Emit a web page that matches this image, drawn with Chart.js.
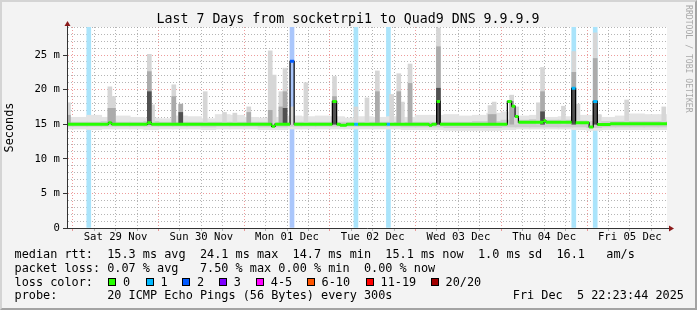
<!DOCTYPE html>
<html>
<head>
<meta charset="utf-8">
<title>Last 7 Days from socketrpi1 to Quad9 DNS 9.9.9.9</title>
<script src="https://cdn.jsdelivr.net/npm/chart.js@4.4.1/dist/chart.umd.min.js"></script>
<style>
  body { margin: 0; background: #fff; }
  #wrap { position: relative; width: 697px; height: 310px; background: #f3f3f3; overflow: hidden;
          font-family: "DejaVu Sans Mono", monospace; color: #000; }
  #wrap canvas { position: absolute; left: 0; top: 0; }
  #frame { position: absolute; left: 0; top: 0; width: 697px; height: 310px; box-sizing: border-box; pointer-events: none;
           border-top: 2px solid #d4d4d4; border-left: 2px solid #d4d4d4;
           border-right: 2px solid #a3a3a3; border-bottom: 2px solid #a3a3a3; }
  #title { position: absolute; left: 0; top: 11px; width: 696px; text-align: center;
           font-size: 13.25px; line-height: 16px; white-space: pre; }
  .t { position: absolute; white-space: pre; font-size: 11.85px; line-height: 14px; }
  .sq { position: absolute; top: 278px; width: 8px; height: 8px; box-sizing: border-box; border: 1px solid #000; }
  #credit { position: absolute; left: 683.5px; top: 5px; writing-mode: vertical-rl; font-size: 8.15px;
            line-height: 9px; color: #a8a8a8; white-space: pre; }
</style>
</head>
<body>
<div id="wrap">
  <canvas id="chart" width="697" height="310"></canvas>
  <div id="title">Last 7 Days from socketrpi1 to Quad9 DNS 9.9.9.9</div>
  <div id="credit">RRDTOOL / TOBI OETIKER</div>
  <div class="t" style="left:14.5px;top:247.2px">median rtt:  15.3 ms avg  24.1 ms max  14.7 ms min  15.1 ms now  1.0 ms sd  16.1   am/s</div>
  <div class="t" style="left:14.5px;top:260.9px">packet loss: 0.07 % avg   7.50 % max 0.00 % min  0.00 % now</div>
  <div class="t" style="left:14.5px;top:274.6px">loss color:</div>
  <div id="lossKey"></div>
  <div class="t" style="left:14.5px;top:288.2px">probe:       20 ICMP Echo Pings (56 Bytes) every 300s</div>
  <div class="t" style="left:512.8px;top:288.2px">Fri Dec  5 22:23:44 2025</div>
  <div id="frame"></div>
</div>
<script>
// time axis in hours, 0 = Sat 29 Nov 00:00
var T_START = -1.6;
var T_END = 166.4;
var Y_MAX = 29.05;

var dayLabels = ['Sat 29 Nov', 'Sun 30 Nov', 'Mon 01 Dec', 'Tue 02 Dec', 'Wed 03 Dec', 'Thu 04 Dec', 'Fri 05 Dec'];
var xGridHours = [0, 6, 12, 18, 24, 30, 36, 42, 48, 54, 60, 66, 72, 78, 84, 90, 96, 102, 108, 114,
                  120, 126, 132, 138, 144, 150, 156, 162];
var yGridMs = [0, 1, 2, 3, 4, 5, 6, 7, 8, 9, 10, 11, 12, 13, 14, 15, 16, 17, 18, 19, 20, 21, 22, 23, 24, 25, 26, 27, 28, 29];

// base smoke, 4 hour bins (ms)
var binHours = [-2, 2, 6, 10, 14, 18, 22, 26, 30, 34, 38, 42, 46, 50, 54, 58, 62, 66, 70, 74, 78, 82,
                86, 90, 94, 98, 102, 106, 110, 114, 118, 122, 126, 130, 134, 138, 142, 146, 150, 154, 158, 162, 166];
var baseHi = [16.0, 16.0, 16.3, 16.0, 16.2, 16.0, 15.9, 15.8, 16.2, 16.1, 15.8, 16.4, 16.3, 16.0, 15.9, 16.0,
              16.2, 16.1, 16.2, 16.1, 15.9, 16.1, 16.0, 16.1, 16.0, 16.3, 16.3, 16.4, 16.2, 16.3, 16.6, 16.8,
              16.2, 16.3, 16.0, 16.1, 16.3, 16.3, 16.0, 16.2, 16.5, 16.4, 16.4];
var baseLo = [14.3, 14.3, 14.2, 14.3, 14.3, 14.3, 14.2, 14.3, 14.3, 14.3, 14.2, 14.3, 14.3, 14.3, 14.2, 14.2,
              14.3, 14.3, 14.3, 14.3, 14.3, 14.3, 14.3, 14.3, 14.2, 14.2, 14.2, 14.1, 14.1, 14.1, 14.1, 14.2,
              14.3, 14.3, 14.3, 14.3, 14.2, 14.1, 14.2, 14.2, 14.2, 14.2, 14.2];
var shadeLo = [14.7, 14.7, 14.7, 14.7, 14.7, 14.7, 14.7, 14.7, 14.7, 14.7, 14.6, 14.7, 14.7, 14.7, 14.6, 14.6,
               14.7, 14.7, 14.7, 14.7, 14.7, 14.7, 14.7, 14.7, 14.6, 14.6, 14.6, 14.5, 14.5, 14.5, 14.5, 14.6,
               14.6, 14.6, 14.6, 14.6, 14.6, 14.5, 14.6, 14.6, 14.6, 14.6, 14.6];
var shadeHi = [15.3, 15.3, 15.3, 15.4, 15.3, 15.3, 15.4, 15.3, 15.3, 15.3, 15.3, 15.3, 15.3, 15.3, 15.3, 15.3,
               15.3, 15.3, 15.3, 15.3, 15.3, 15.3, 15.3, 15.3, 15.3, 15.3, 15.3, 15.3, 15.3, 15.4, 15.4, 15.6,
               15.6, 15.7, 15.6, 15.6, 15.5, 15.4, 15.4, 15.4, 15.4, 15.4, 15.4];

// narrow smoke spikes (ms)
var spikeHours = [-1.2, 10.4, 11.4, 21.45, 22.35, 28.3, 30.25, 37.1, 42.5, 45.4, 49.3, 55.3, 56.4, 58.3, 59.45,
                  61.4, 65.3, 73.3, 79.3, 82.4, 85.3, 89.3, 91.3, 92.3, 94.45, 102.4, 116.85, 118.0, 122.9,
                  124.3, 130.4, 131.55, 137.4, 140.3, 141.45, 146.3, 147.4, 155.1, 165.5];
var spikeTop = [18.1, 20.4, 19.0, 25.1, 17.8, 20.7, 17.9, 19.7, 16.7, 16.6, 17.5, 25.6, 22.1, 19.7, 23.1,
                17.5, 21.0, 21.9, 17.5, 18.8, 22.7, 19.3, 22.3, 18.2, 23.7, 28.9, 17.7, 18.2, 19.2,
                17.5, 18.1, 23.2, 17.6, 25.5, 17.9, 28.2, 16.4, 18.5, 17.5];
var spikeMid = [16.3, 17.3, 17.3, 22.6, null, 19.0, 17.9, null, null, null, 16.7, 17.0, null, 17.5, 19.7,
                null, null, 19.0, null, null, 19.7, null, 19.7, null, 20.9, 26.2, 16.4, 16.4, 18.3,
                null, null, 19.7, null, 22.5, null, 24.5, null, null, null];
var spikeDark = [null, null, null, 19.7, null, null, 16.7, null, null, null, null, null, null, null, 17.3,
                 null, null, 18.3, null, null, null, null, null, null, null, 20.2, null, null, null,
                 null, null, 16.8, null, 20.2, null, 18.3, null, null, null];

// median rtt, step change points (ms) and loss count for each step
var medianT = [-1.6, 10.0, 10.9, 20.9, 22.0, 55.7, 56.65, 60.85, 62.0, 72.7, 73.9, 74.85, 76.7, 78.8, 79.9,
               87.9, 88.85, 99.75, 100.6, 101.9, 102.85, 121.7, 122.9, 123.85, 124.8, 131.8, 132.5, 139.7,
               140.8, 144.6, 145.75, 146.9, 150.5];
var medianV = [15.0, 15.2, 15.0, 15.2, 15.0, 14.7, 15.0, 24.1, 15.0, 18.3, 15.0, 14.85, 15.0, 15.0, 15.0,
               15.0, 15.0, 14.85, 15.0, 18.3, 15.0, 18.3, 17.6, 16.1, 15.3, 15.5, 15.3, 20.2,
               15.2, 14.6, 18.3, 14.95, 15.05];
var medianLoss = [0, 0, 0, 0, 0, 0, 0, 2, 0, 0, 0, 0, 0, 1, 0, 1, 0, 0, 0, 0, 0, 0, 0, 0, 0, 0, 0, 1,
                  0, 0, 1, 0, 0];

// packet loss bands
var lossHours = [4.5, 61.4, 79.3, 88.4, 140.3, 146.3];
var lossLevel = [1, 2, 1, 1, 1, 1];

var lossKeyLabels = ['0', '1', '2', '3', '4-5', '6-10', '11-19', '20/20'];
var lossColors = ['#26ff00', '#00b8ff', '#0059ff', '#7e00ff', '#ff00ff', '#ff5500', '#ff0000', '#a10000'];
var bandColors = ['#ffffff', '#aae4fb', '#aac6fb'];

// loss colour key (legend text)
var keyLeft = [108.3, 145.7, 182.3, 219, 256, 306.7, 365.7, 430.7];
var key = document.getElementById('lossKey');
lossKeyLabels.forEach(function (lab, i) {
    var sq = document.createElement('div');
    sq.className = 'sq';
    sq.style.left = keyLeft[i] + 'px';
    sq.style.background = lossColors[i];
    key.appendChild(sq);
    var tx = document.createElement('div');
    tx.className = 't';
    tx.style.left = (keyLeft[i] + 14.8) + 'px';
    tx.style.top = '274.6px';
    tx.textContent = lab;
    key.appendChild(tx);
});

function stepEnd(i) {
    return i + 1 < medianT.length ? medianT[i + 1] : T_END;
}

function medianSegments(level) {
    var pts = [];
    medianT.forEach(function (t, i) {
        if (medianLoss[i] !== level) return;
        pts.push({ x: t, y: medianV[i] }, { x: stepEnd(i), y: medianV[i] }, { x: stepEnd(i), y: null });
    });
    return pts;
}

var medianStep = [];
medianT.forEach(function (t, i) {
    medianStep.push({ x: t, y: medianV[i] }, { x: stepEnd(i), y: medianV[i] });
});

function spikeBars(tops) {
    var out = [];
    spikeHours.forEach(function (h, i) {
        if (tops[i] !== null) out.push({ x: h, y: [15.0, tops[i]] });
    });
    return out;
}

var RED = 'rgba(225, 90, 90, 0.6)';
var GRAY = 'rgba(150, 150, 150, 0.7)';

var areaBg = {
    id: 'areaBg',
    beforeDraw: function (chart) {
        var c = chart.ctx, a = chart.chartArea;
        c.save();
        c.fillStyle = '#ffffff';
        c.fillRect(a.left, a.top, a.right - a.left, a.bottom - a.top);
        c.restore();
    },
    afterDraw: function (chart) {
        var c = chart.ctx, a = chart.chartArea;
        c.save();
        c.strokeStyle = '#333';
        c.lineWidth = 1;
        c.beginPath();
        c.moveTo(a.left + 0.5, a.top);
        c.lineTo(a.left + 0.5, a.top - 2);
        c.moveTo(a.right, a.bottom + 0.5);
        c.lineTo(a.right + 2, a.bottom + 0.5);
        c.stroke();
        c.fillStyle = '#8b1a1a';
        c.beginPath();
        c.moveTo(a.left + 0.5, a.top - 6);
        c.lineTo(a.left - 2.5, a.top - 1);
        c.lineTo(a.left + 3.5, a.top - 1);
        c.closePath();
        c.fill();
        c.beginPath();
        c.moveTo(a.right + 7, a.bottom + 0.5);
        c.lineTo(a.right + 2, a.bottom - 2.5);
        c.lineTo(a.right + 2, a.bottom + 3.5);
        c.closePath();
        c.fill();
        c.restore();
    }
};

Chart.defaults.font.family = '"DejaVu Sans Mono", monospace';
Chart.defaults.color = '#000';

var ctx = document.getElementById('chart').getContext('2d');
var myChart = new Chart(ctx, {
    type: 'bar',
    data: {
        datasets: [{
            label: 'loss',
            data: lossHours.map(function (h) { return { x: h, y: [0, Y_MAX] }; }),
            backgroundColor: lossLevel.map(function (l) { return bandColors[l]; }),
            barThickness: 4, grouped: false, order: 20
        }, {
            label: 'smoke',
            data: binHours.map(function (h, i) { return { x: h, y: [baseLo[i], baseHi[i]] }; }),
            backgroundColor: '#e4e4e4',
            barThickness: 15, grouped: false, order: 19
        }, {
            label: 'smoke core',
            data: binHours.map(function (h, i) { return { x: h, y: [shadeLo[i], shadeHi[i]] }; }),
            backgroundColor: '#cdcdcd',
            barThickness: 15, grouped: false, order: 18
        }, {
            label: 'spike',
            data: spikeBars(spikeTop),
            backgroundColor: '#d6d6d6',
            barThickness: 4, grouped: false, order: 17
        }, {
            label: 'spike mid',
            data: spikeBars(spikeMid),
            backgroundColor: '#ababab',
            barThickness: 4, grouped: false, order: 16
        }, {
            label: 'spike dark',
            data: spikeBars(spikeDark),
            backgroundColor: '#505050',
            barThickness: 4, grouped: false, order: 15
        }, {
            type: 'line',
            label: 'median',
            data: medianStep,
            borderColor: '#000',
            borderWidth: 1.2,
            pointRadius: 0,
            order: 3
        }, {
            type: 'line',
            label: 'loss 0',
            data: medianSegments(0),
            borderColor: lossColors[0],
            borderWidth: 3, borderCapStyle: 'butt',
            pointRadius: 0, spanGaps: false, order: 1
        }, {
            type: 'line',
            label: 'loss 1',
            data: medianSegments(1),
            borderColor: lossColors[1],
            borderWidth: 3, borderCapStyle: 'butt',
            pointRadius: 0, spanGaps: false, order: 1
        }, {
            type: 'line',
            label: 'loss 2',
            data: medianSegments(2),
            borderColor: lossColors[2],
            borderWidth: 3, borderCapStyle: 'butt',
            pointRadius: 0, spanGaps: false, order: 1
        }]
    },
    options: {
        responsive: false,
        animation: false,
        devicePixelRatio: 1,
        layout: { padding: { top: 27, right: 30, left: 0, bottom: 0 } },
        plugins: {
            legend: { display: false },
            tooltip: { enabled: false },
            title: { display: false }
        },
        scales: {
            x: {
                type: 'linear',
                min: T_START,
                max: T_END,
                offset: false,
                afterBuildTicks: function (s) { s.ticks = xGridHours.map(function (v) { return { value: v }; }); },
                afterFit: function (s) { s.height = 82; },
                grid: {
                    offset: false,
                    tickLength: 3,
                    color: function (c) { return c.tick && c.tick.value % 24 === 0 ? RED : GRAY; }
                },
                border: { display: true, color: '#333', dash: [1, 2], z: 1 },
                ticks: {
                    autoSkip: false,
                    maxRotation: 0,
                    padding: 0,
                    font: { size: 10.6 },
                    callback: function (v) { return v % 24 === 12 ? dayLabels[(v - 12) / 24] : ''; }
                }
            },
            y: {
                min: 0,
                max: Y_MAX,
                afterBuildTicks: function (s) { s.ticks = yGridMs.map(function (v) { return { value: v }; }); },
                afterFit: function (s) { s.width = 67; },
                grid: {
                    tickLength: 4,
                    color: function (c) { return c.tick && c.tick.value % 5 === 0 ? RED : GRAY; },
                    tickColor: function (c) { return c.tick && c.tick.value % 5 === 0 ? '#333' : 'rgba(0,0,0,0)'; }
                },
                border: { display: true, color: '#333', dash: [1, 2], z: 1 },
                title: {
                    display: true,
                    text: 'Seconds',
                    font: { size: 11.85 },
                    padding: { top: 3, bottom: 0 }
                },
                ticks: {
                    autoSkip: false,
                    padding: 3,
                    font: { size: 10.6 },
                    callback: function (v) { return v % 5 !== 0 ? '' : (v === 0 ? '0' : v + ' m'); }
                }
            }
        }
    },
    plugins: [areaBg]
});
</script>
</body>
</html>
